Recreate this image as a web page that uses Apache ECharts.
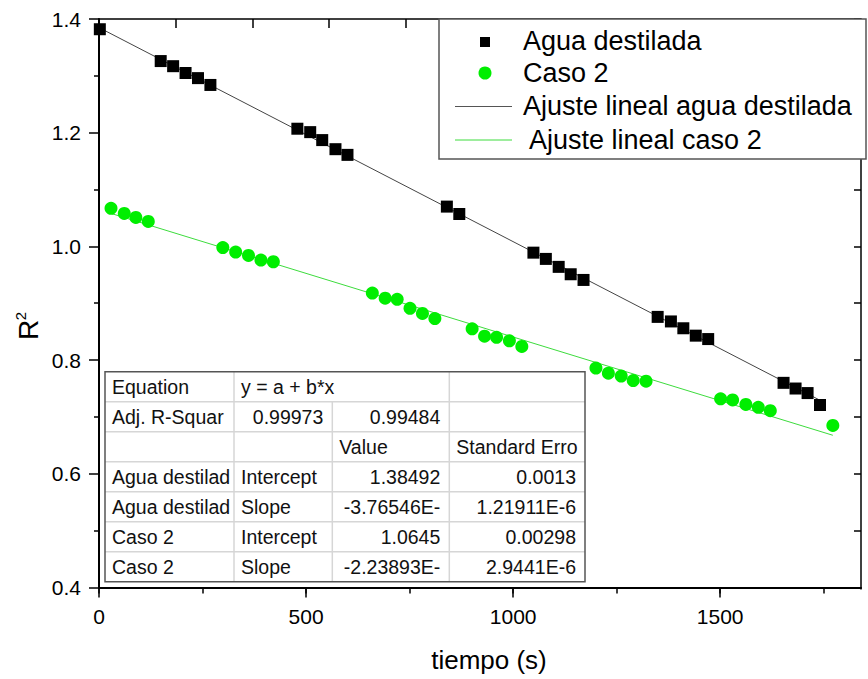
<!DOCTYPE html>
<html>
<head>
<meta charset="utf-8">
<script src="https://cdn.jsdelivr.net/npm/echarts@6/dist/echarts.min.js"></script>
<style>
  html, body { margin: 0; padding: 0; background: #fff; }
  #chart { width: 868px; height: 679px; }
</style>
</head>
<body>
<div id="chart"></div>
<script>
// Measurements: time (s) and R^2
const aguaTiempo = [2, 149, 179, 209, 239, 269, 479, 510, 539, 571, 600, 840, 870,
  1049, 1079, 1110, 1139, 1170, 1349, 1381, 1411, 1441, 1471, 1653, 1682, 1711, 1741];
const aguaR2 = [1.382, 1.326, 1.317, 1.305, 1.296, 1.284, 1.207, 1.201, 1.187, 1.171, 1.161, 1.070, 1.057,
  0.989, 0.978, 0.964, 0.951, 0.941, 0.876, 0.868, 0.856, 0.843, 0.837, 0.760, 0.750, 0.742, 0.721];

const caso2Tiempo = [29, 61, 89, 119, 299, 330, 361, 391, 421, 660, 691, 720, 751, 781, 811,
  901, 931, 960, 991, 1021, 1200, 1230, 1261, 1290, 1321, 1501, 1530, 1562, 1592, 1621, 1772];
const caso2R2 = [1.067, 1.058, 1.051, 1.044, 0.998, 0.990, 0.984, 0.976, 0.973, 0.918, 0.909, 0.907, 0.891, 0.882, 0.873,
  0.855, 0.842, 0.840, 0.834, 0.824, 0.786, 0.777, 0.772, 0.764, 0.763, 0.732, 0.730, 0.722, 0.717, 0.711, 0.685];

// Linear fit parameters (y = a + b*x)
const fitIntercept = [1.38492, 1.0645];
const fitSlope = [-3.76546e-4, -2.23893e-4];

// Series / legend names
const seriesNames = ['Agua destilada', 'Caso 2', 'Ajuste lineal agua destilada', ' Ajuste lineal caso 2'];

// Axis ranges and tick steps
const xRange = [0, 1840];
const xMajorStep = 500;
const xMinorStep = 250;
const yRange = [0.4, 1.4];
const yMajorStep = 0.2;
const yRightStep = 0.1;
const topRange = [0, 9.94];

// Fit results table
const tableRows = [
  ['Equation', 'y = a + b*x', '', ''],
  ['Adj. R-Squar', '0.99973', '0.99484', ''],
  ['', '', 'Value', 'Standard Erro'],
  ['Agua destilad', 'Intercept', '1.38492', '0.0013'],
  ['Agua destilad', 'Slope', '-3.76546E-', '1.21911E-6'],
  ['Caso 2', 'Intercept', '1.0645', '0.00298'],
  ['Caso 2', 'Slope', '-2.23893E-', '2.9441E-6']
];

const FONT = '"Liberation Sans", Arial, sans-serif';
const BLACK = '#000000';
const GREEN = '#00ee00';
const GREEN_LINE = '#3ddc3d';

function pairs(xs, ys) { return xs.map((x, i) => [x, ys[i]]); }
function fitLine(xs, k) {
  const x0 = Math.min(...xs), x1 = Math.max(...xs);
  return [[x0, fitIntercept[k] + fitSlope[k] * x0], [x1, fitIntercept[k] + fitSlope[k] * x1]];
}

// ---- graphic: table of fit results ----
const tbl = { top: 371.7, rowH: 30, cols: [105, 234, 332.3, 449.3, 585] };
const tableEls = [];
const tW = tbl.cols[4] - tbl.cols[0], tH = tbl.rowH * tableRows.length;
tableEls.push({ type: 'rect', shape: { x: tbl.cols[0], y: tbl.top, width: tW, height: tH },
  style: { fill: '#ffffff', stroke: null }, z: 100 });
for (let r = 1; r < tableRows.length; r++) {
  const y = tbl.top + r * tbl.rowH;
  tableEls.push({ type: 'line', shape: { x1: tbl.cols[0], y1: y, x2: tbl.cols[4], y2: y },
    style: { stroke: '#d6d6d6', lineWidth: 1.5 }, z: 101 });
}
for (let c = 1; c < 4; c++) {
  for (let r = 0; r < tableRows.length; r++) {
    if (r === 0 && c === 2) continue; // merged equation cell
    const y = tbl.top + r * tbl.rowH;
    tableEls.push({ type: 'line', shape: { x1: tbl.cols[c], y1: y, x2: tbl.cols[c], y2: y + tbl.rowH },
      style: { stroke: '#d6d6d6', lineWidth: 1.5 }, z: 101 });
  }
}
tableEls.push({ type: 'rect', shape: { x: tbl.cols[0], y: tbl.top, width: tW, height: tH },
  style: { fill: null, stroke: '#555555', lineWidth: 1.5 }, z: 102 });
tableRows.forEach((row, r) => {
  row.forEach((txt, c) => {
    if (!txt) return;
    const numeric = /^[-0-9]/.test(txt);
    const yC = tbl.top + r * tbl.rowH + tbl.rowH / 2;
    tableEls.push({ type: 'text', z: 103,
      style: { text: txt, x: numeric ? tbl.cols[c + 1] - 9 : tbl.cols[c] + 7, y: yC,
        align: numeric ? 'right' : 'left', verticalAlign: 'middle',
        fontSize: 19.5, fontFamily: FONT, fill: '#111111' } });
  });
});

// ---- graphic: legend box ----
const legendEls = [
  { type: 'rect', shape: { x: 439, y: 19, width: 427, height: 140 },
    style: { fill: '#ffffff', stroke: '#555555', lineWidth: 1.5 }, z: 100 },
  { type: 'rect', shape: { x: 480, y: 37, width: 10, height: 10 }, style: { fill: BLACK }, z: 101 },
  { type: 'circle', shape: { cx: 485, cy: 73, r: 6.5 }, style: { fill: GREEN }, z: 101 },
  { type: 'line', shape: { x1: 455, y1: 106.5, x2: 512, y2: 106.5 }, style: { stroke: '#555555', lineWidth: 1 }, z: 101 },
  { type: 'line', shape: { x1: 455, y1: 140, x2: 512, y2: 140 }, style: { stroke: GREEN_LINE, lineWidth: 1 }, z: 101 }
];
[41, 73, 106, 139.5].forEach((y, i) => {
  legendEls.push({ type: 'text', z: 101,
    style: { text: seriesNames[i], x: 523, y: y, align: 'left', verticalAlign: 'middle',
      fontSize: 27, fontFamily: FONT, fill: BLACK } });
});

// ---- axis titles and corner cleanup ----
const titleEls = [
  { type: 'text', z: 50, x: 28, y: 330, rotation: Math.PI / 2,
    style: { text: 'R', x: 0, y: 0, align: 'center', verticalAlign: 'middle',
      fontSize: 28, fontFamily: FONT, fill: BLACK } },
  { type: 'text', z: 50, x: 20, y: 316, rotation: Math.PI / 2,
    style: { text: '2', x: 0, y: 0, align: 'center', verticalAlign: 'middle',
      fontSize: 15, fontFamily: FONT, fill: BLACK } },
  { type: 'text', z: 50,
    style: { text: 'tiempo (s)', x: 489, y: 660, align: 'center', verticalAlign: 'middle',
      fontSize: 26, fontFamily: FONT, fill: BLACK } },
  // hide the end-of-range tick stub below the right corner
  { type: 'rect', z: 60, shape: { x: 856, y: 589.5, width: 12, height: 14 },
    style: { fill: '#ffffff', stroke: null } }
];

const tickStyle = { color: BLACK, width: 1.5 };

const option = {
  backgroundColor: '#ffffff',
  animation: false,
  grid: { left: 99, top: 19, right: 7, bottom: 91.5, containLabel: false },
  xAxis: [
    { type: 'value', position: 'bottom', min: xRange[0], max: xRange[1], interval: xMajorStep,
      axisLine: { show: true, onZero: false, lineStyle: { color: BLACK, width: 2 } },
      axisTick: { show: true, inside: false, length: 10, lineStyle: tickStyle },
      axisLabel: { show: true, fontSize: 21, color: BLACK, fontFamily: FONT, margin: 18,
        showMaxLabel: false, formatter: v => (v % xMajorStep === 0 ? String(v) : '') },
      splitLine: { show: false } },
    { type: 'value', position: 'bottom', min: xRange[0], max: xRange[1], interval: xMinorStep,
      axisLine: { show: false, onZero: false },
      axisTick: { show: true, inside: false, length: 6, lineStyle: tickStyle },
      axisLabel: { show: false }, splitLine: { show: false } },
    { type: 'value', position: 'top', min: topRange[0], max: topRange[1], interval: 1,
      axisLine: { show: true, onZero: false, lineStyle: { color: BLACK, width: 1.5 } },
      axisTick: { show: true, inside: true, length: 9, lineStyle: tickStyle },
      axisLabel: { show: false }, splitLine: { show: false } }
  ],
  yAxis: [
    { type: 'value', position: 'left', min: yRange[0], max: yRange[1], interval: yMajorStep,
      axisLine: { show: true, onZero: false, lineStyle: { color: BLACK, width: 2 } },
      axisTick: { show: true, inside: false, length: 10, lineStyle: tickStyle },
      minorTick: { show: true, splitNumber: 2, length: 5, lineStyle: tickStyle },
      axisLabel: { fontSize: 21, color: BLACK, fontFamily: FONT, margin: 18,
        formatter: v => v.toFixed(1) },
      splitLine: { show: false }, minorSplitLine: { show: false } },
    { type: 'value', position: 'right', min: yRange[0], max: yRange[1], interval: yRightStep,
      axisLine: { show: true, onZero: false, lineStyle: { color: BLACK, width: 1.5 } },
      axisTick: { show: true, inside: true, length: 7, lineStyle: tickStyle },
      axisLabel: { show: false }, splitLine: { show: false } }
  ],
  series: [
    { name: seriesNames[2], type: 'line', data: fitLine(aguaTiempo, 0), showSymbol: false, z: 2,
      lineStyle: { color: '#444444', width: 1 }, silent: true },
    { name: seriesNames[3], type: 'line', data: fitLine(caso2Tiempo, 1), showSymbol: false, z: 2,
      lineStyle: { color: GREEN_LINE, width: 1 }, silent: true },
    { name: seriesNames[0], type: 'scatter', data: pairs(aguaTiempo, aguaR2), symbol: 'rect',
      symbolSize: 12, itemStyle: { color: BLACK, opacity: 1 }, z: 3 },
    { name: seriesNames[1], type: 'scatter', data: pairs(caso2Tiempo, caso2R2), symbol: 'circle',
      symbolSize: 13, itemStyle: { color: GREEN, opacity: 1 }, z: 3 }
  ],
  graphic: { elements: [...titleEls, ...legendEls, ...tableEls] }
};

const chart = echarts.init(document.getElementById('chart'), null, { renderer: 'svg' });
chart.setOption(option);
</script>
</body>
</html>
